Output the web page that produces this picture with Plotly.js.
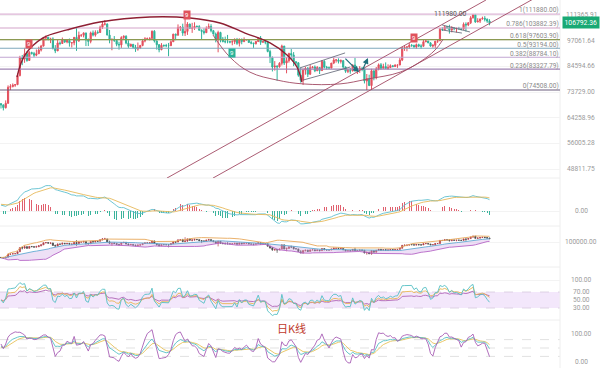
<!DOCTYPE html>
<html><head><meta charset="utf-8">
<script src="https://cdn.plot.ly/plotly-3.0.1.min.js"></script>
<style>html,body{margin:0;padding:0;background:#fff}#chart{width:600px;height:368px}</style>
</head><body><div id="chart"></div>
<script>
// Daily candles (thousand USD), Nov 3 -> May 29
const firstOpenK = 69.3;
const closeK = [
68.8,67.8,69.4,75.6,75.9,76.5,76.7,80.5,88.7,88.0,90.5,87.3,91.1,90.6,89.8,90.5,92.3,94.3,98.4,98.9,97.7,98.0,93.1,91.9,95.9,95.6,97.5,96.4,
97.2,95.9,96.0,98.8,97.0,99.9,99.9,101.2,97.4,96.7,101.2,100.0,101.5,101.4,104.3,106.1,106.1,100.0,97.5,97.8,97.2,95.2,94.9,98.7,99.4,95.8,94.2,95.2,93.7,92.8,93.4,
94.6,96.9,98.1,98.2,98.3,102.1,96.9,95.0,92.5,94.7,94.6,94.5,94.5,96.5,100.5,99.9,104.1,104.4,101.1,102.0,106.1,103.6,103.9,104.8,104.7,102.6,102.0,101.3,103.7,104.7,102.4,
100.6,97.7,101.4,97.9,96.6,96.5,96.5,96.4,96.5,97.4,95.7,97.9,96.6,97.5,97.6,96.1,95.8,95.5,96.6,98.3,96.2,96.6,96.3,91.6,88.7,84.3,84.7,84.4,
86.0,94.3,86.1,87.2,90.6,89.9,86.7,86.2,80.7,78.5,82.9,83.7,81.1,84.0,84.3,82.6,84.1,82.7,86.9,84.2,84.0,83.8,86.1,87.5,87.5,86.9,87.2,84.3,82.4,82.6,82.5,
85.2,82.5,83.1,83.8,83.5,78.2,79.2,76.3,82.6,79.6,83.4,85.3,83.7,84.5,83.6,84.0,84.9,84.5,85.1,85.2,87.5,93.4,93.7,93.9,94.7,94.6,93.8,95.0,94.3,94.2,
96.5,96.9,95.9,94.3,94.7,96.8,97.0,103.2,102.9,104.6,104.1,102.8,104.1,103.5,103.7,103.5,103.2,106.0,105.6,106.8,109.7,111.7,107.3,107.8,109.0,109.4,108.9,107.8,106.79236
];
const highK = [
69.4,69.0,70.5,76.4,76.9,77.2,76.9,81.5,89.5,89.9,93.4,91.8,91.8,91.5,91.4,92.6,94.0,94.9,99.0,99.8,98.8,98.6,98.8,94.8,97.4,96.7,98.7,97.5,
97.9,98.2,96.3,99.0,104.0,101.9,100.5,101.4,101.2,98.2,101.9,102.5,102.6,102.6,105.2,107.8,108.4,106.5,102.8,98.1,99.5,97.4,96.5,99.4,99.9,99.9,97.3,95.5,95.2,94.9,96.1,
94.9,98.0,98.9,98.7,98.8,102.5,102.7,97.2,95.3,95.8,95.0,95.4,95.9,97.3,100.7,100.8,105.9,104.9,106.3,109.6,107.2,106.3,106.8,107.1,105.3,105.5,103.1,103.7,104.8,106.4,106.0,
102.8,101.4,102.4,101.8,99.0,99.2,100.1,96.8,97.3,98.3,98.5,98.1,98.0,98.8,97.9,97.7,97.0,96.0,96.9,98.7,99.5,96.9,96.6,96.5,92.5,89.2,87.0,85.1,
86.5,95.0,94.4,88.9,91.0,92.8,91.3,86.9,86.5,84.0,83.6,84.4,84.3,85.3,84.7,85.0,84.7,84.1,87.5,87.4,84.8,84.5,86.1,88.7,88.0,88.3,87.8,87.5,84.5,83.5,83.9,
85.5,88.5,83.9,84.7,84.2,83.8,81.2,80.9,83.5,82.7,84.3,85.9,86.1,85.8,86.4,85.5,85.5,85.1,85.6,85.3,88.5,93.9,94.7,94.0,95.8,95.3,95.0,95.6,95.5,95.2,
97.4,97.9,96.9,96.3,95.2,96.9,97.7,103.9,104.3,104.9,104.9,105.7,104.9,104.3,104.1,104.5,103.7,107.0,107.1,107.2,110.7,111.98,111.9,109.5,109.3,110.4,110.7,109.3,108.9
];
const lowK = [
67.5,66.8,67.5,69.3,74.5,75.6,75.8,76.5,80.2,85.1,86.2,86.7,87.1,90.1,88.8,89.3,90.5,91.6,94.1,97.2,97.2,95.8,92.6,90.8,91.8,94.7,95.4,95.9,
95.7,94.0,93.6,94.7,91.9,96.4,99.0,98.8,94.3,94.3,95.7,99.3,99.2,100.6,101.2,103.3,105.3,100.0,95.7,92.2,96.4,94.2,92.5,93.4,97.6,95.2,93.4,94.1,93.1,91.4,92.0,
92.8,94.2,96.2,97.5,97.2,97.9,96.1,92.5,91.2,92.2,93.8,93.7,89.3,94.3,96.5,97.3,99.9,102.3,99.6,99.5,100.1,103.3,101.2,102.8,104.1,102.5,97.8,100.3,101.3,103.3,101.5,
100.3,96.2,91.2,96.2,96.2,95.7,95.7,95.7,94.7,95.3,94.9,94.1,95.2,96.3,97.2,96.0,95.2,93.4,95.1,96.4,94.9,96.1,95.2,91.2,86.1,82.3,82.7,78.3,
84.0,85.0,85.2,81.5,86.3,87.8,84.7,85.3,80.0,77.5,76.6,80.9,79.9,80.8,83.7,82.0,82.5,81.2,82.6,83.7,83.2,83.7,83.7,85.6,86.3,85.9,85.9,83.6,81.7,81.6,81.3,
82.4,82.3,81.2,81.7,82.4,77.2,74.5,76.2,74.6,78.5,78.9,82.8,83.1,83.7,83.6,83.1,83.9,84.2,84.4,83.9,85.1,87.0,91.9,91.7,92.9,93.9,93.6,92.9,93.8,92.9,
94.1,96.3,95.8,94.0,93.5,93.4,95.9,96.9,102.3,102.9,103.2,100.8,101.5,102.6,101.4,103.1,102.6,103.1,102.0,104.9,106.1,109.3,106.8,107.1,106.7,108.7,107.6,106.8,105.4
];

// indicator state carried in from before the first visible candle
const ema12Seed = 69500, ema26Seed = 67700, deaSeed = 1900;

// Fibonacci retracement
const fibRatios = ['1','0.786','0.618','0.5','0.382','0.236','0'];
const fibPrices = [111880.00,103882.39,97603.90,93194.00,88784.10,83327.79,74508.00];
const fibColors = ['#dcb4d6','#d3a3c9','#8c9a52','#7fa9bd','#c2a6d2','#9f84b3','#6b5d7c'];

// Axis tick labels
const mainTicks = [111365.91,97061.64,84594.66,73729.00,64258.96,56005.28,48811.75];
const lastPrice = 106792.36;
const peakLabel = 111980.00;

// TD "9" markers: [day index, side]
const td9Idx = [12,79,98,175];
const td9Side = ['up','up','down','up'];

// Drawings (day index, price)
const arcTopIdx = [6.8,10.2,17.8,28.0,41.9,63.1,80.1,92.8,103.4,114.0,121.2,125.4,127.5];
const arcTopPx  = [79900,89900,98500,102800,107300,110200,109600,106700,101100,95900,89900,84300,77800];
const cupIdx = [89.8,97.0,105.5,117.0,128.0,143.6,155.1,169.1,177.5,183.9,187.3];
const cupPx  = [100100,88900,82000,78600,77000,77000,79000,82000,86600,92300,97700];
const chanAIdx = [70.3,205.5], chanAPx = [46500,120700];
const chanBIdx = [89.8,225.0], chanBPx = [46500,120900];
const flagUIdx = [126.7,145.8], flagUPx = [83900,90900];
const flagLIdx = [128.0,148.0], flagLPx = [78600,84300];
const triUIdx = [186.9,198.7], triUPx = [105600,101700];
const triLIdx = [186.9,195.3], triLPx = [102800,101100];
const arrowFromIdx = [145.3,153.0], arrowFromPx = [88900,82500];
const arrowToIdx = [151.7,155.5], arrowToPx = [82000,88500];

// ---------- build ----------
const N = closeK.length;
const idx = closeK.map((_, i) => i);
const close = closeK.map(v => v * 1000);
const open = close.map((c, i) => i === 0 ? firstOpenK * 1000 : close[i - 1]);
const high = highK.map((h, i) => Math.max(h * 1000, open[i], close[i]));
const low = lowK.map((l, i) => Math.min(l * 1000, open[i], close[i]));

function ema(a, n, seed) { const k = 2 / (n + 1); let e = seed; return a.map(v => (e = v * k + e * (1 - k))); }
const e12 = ema(close, 12, ema12Seed), e26 = ema(close, 26, ema26Seed);
const dif = e12.map((v, i) => v - e26[i]);
const dea = ema(dif, 9, deaSeed);
const macd = dif.map((v, i) => 2 * (v - dea[i]));

function rsi(n) {
  let su = 600, sa = 1200; const out = [];
  for (let i = 0; i < N; i++) {
    const d = i === 0 ? 0 : close[i] - close[i - 1];
    if (i > 0) { su = (Math.max(d, 0) + (n - 1) * su) / n; sa = (Math.abs(d) + (n - 1) * sa) / n; }
    out.push(sa === 0 ? 50 : su / sa * 100);
  }
  return out;
}
const rsi6 = rsi(6), rsi12 = rsi(12), rsi24 = rsi(24);

const kArr = [], dArr = [], jArr = [];
{ let K = 50, D = 50;
  for (let i = 0; i < N; i++) {
    const s = Math.max(0, i - 8);
    const ll = Math.min(...low.slice(s, i + 1)), hh = Math.max(...high.slice(s, i + 1));
    const rsv = hh === ll ? 50 : (close[i] - ll) / (hh - ll) * 100;
    K = (2 * K + rsv) / 3; D = (2 * D + K) / 3;
    kArr.push(K); dArr.push(D); jArr.push(3 * K - 2 * D);
  } }

const bbU = [], bbM = [], bbL = [];
for (let i = 0; i < N; i++) {
  const w = close.slice(Math.max(0, i - 19), i + 1);
  const m = w.reduce((a, b) => a + b, 0) / w.length;
  const sd = Math.sqrt(w.reduce((a, b) => a + (b - m) * (b - m), 0) / w.length);
  bbM.push(m); bbU.push(m + 2 * sd); bbL.push(m - 2 * sd);
}

const RED = '#e4505e', GRN = '#2fb39a';
const XR = [-0.42, 236.86];
const YR = [4.66769, 5.08164];
const PX_PER_IDX = 560 / (XR[1] - XR[0]);
const PX_PER_DEC = 178 / (YR[1] - YR[0]);
const traces = [];

// fib lines + labels
fibPrices.forEach((p, k) => {
  traces.push({ x: XR, y: [p, p], mode: 'lines', line: { color: fibColors[k], width: 1.1 }, hoverinfo: 'skip', xaxis: 'x', yaxis: 'y' });
});
traces.push({ x: fibPrices.map(() => 236.3), y: fibPrices, mode: 'text',
  text: fibPrices.map((p, k) => fibRatios[k] + '(' + p.toFixed(2) + ')'),
  textposition: 'top left', textfont: { size: 6.6, color: '#8a8a8a', family: 'Roboto, Arial' }, hoverinfo: 'skip', xaxis: 'x', yaxis: 'y' });

// drawings
const DR = '#8e1f33', CH = '#a24a63', GR = '#5b6070';
traces.push({ x: arcTopIdx, y: arcTopPx, mode: 'lines', line: { color: DR, width: 1.4, shape: 'spline', smoothing: 1.1 }, hoverinfo: 'skip', xaxis: 'x', yaxis: 'y' });
traces.push({ x: cupIdx, y: cupPx, mode: 'lines', line: { color: CH, width: 0.9, shape: 'spline', smoothing: 1.1 }, hoverinfo: 'skip', xaxis: 'x', yaxis: 'y' });
[[chanAIdx, chanAPx], [chanBIdx, chanBPx]].forEach(([a, b]) =>
  traces.push({ x: a, y: b, mode: 'lines', line: { color: CH, width: 0.9 }, hoverinfo: 'skip', xaxis: 'x', yaxis: 'y' }));
[[flagUIdx, flagUPx], [flagLIdx, flagLPx], [triUIdx, triUPx], [triLIdx, triLPx]].forEach(([a, b]) =>
  traces.push({ x: a, y: b, mode: 'lines', line: { color: GR, width: 0.8 }, hoverinfo: 'skip', xaxis: 'x', yaxis: 'y' }));

// candles main
traces.push({ type: 'candlestick', x: idx, open, high, low, close, xaxis: 'x', yaxis: 'y',
  increasing: { line: { color: RED, width: 1 }, fillcolor: RED },
  decreasing: { line: { color: GRN, width: 1 }, fillcolor: GRN }, whiskerwidth: 0, hoverinfo: 'skip' });

// MACD
traces.push({ type: 'bar', x: idx, y: macd, width: 0.35, marker: { color: macd.map(v => v >= 0 ? '#e0606e' : '#3bb39c') }, xaxis: 'x', yaxis: 'y2', hoverinfo: 'skip' });
traces.push({ x: idx, y: dif, mode: 'lines', line: { color: '#5fbfcf', width: 0.9 }, xaxis: 'x', yaxis: 'y2', hoverinfo: 'skip' });
traces.push({ x: idx, y: dea, mode: 'lines', line: { color: '#e6b95a', width: 0.9 }, xaxis: 'x', yaxis: 'y2', hoverinfo: 'skip' });

// BOLL panel
traces.push({ x: idx, y: bbL, mode: 'lines', line: { color: '#b565c6', width: 0.9 }, xaxis: 'x', yaxis: 'y3', hoverinfo: 'skip' });
traces.push({ x: idx, y: bbM, mode: 'lines', line: { color: '#62a9d3', width: 0.9 }, fill: 'tonexty', fillcolor: 'rgba(205,165,230,0.35)', xaxis: 'x', yaxis: 'y3', hoverinfo: 'skip' });
traces.push({ x: idx, y: bbU, mode: 'lines', line: { color: '#e8a85a', width: 0.9 }, xaxis: 'x', yaxis: 'y3', hoverinfo: 'skip' });
traces.push({ type: 'candlestick', x: idx, open, high, low, close, xaxis: 'x', yaxis: 'y3',
  increasing: { line: { color: '#b2404c', width: 0.7 }, fillcolor: '#b2404c' },
  decreasing: { line: { color: '#4a4a4a', width: 0.7 }, fillcolor: '#4a4a4a' }, whiskerwidth: 0, hoverinfo: 'skip' });

// RSI
[[rsi24, '#b063b5'], [rsi12, '#e8b552'], [rsi6, '#55bfc4']].forEach(([a, c]) =>
  traces.push({ x: idx, y: a, mode: 'lines', line: { color: c, width: 0.9 }, xaxis: 'x', yaxis: 'y4', hoverinfo: 'skip' }));
// KDJ
[[dArr, '#e8c25a'], [kArr, '#55bfc4'], [jArr, '#a85fb5']].forEach(([a, c]) =>
  traces.push({ x: idx, y: a, mode: 'lines', line: { color: c, width: 0.9 }, xaxis: 'x', yaxis: 'y5', hoverinfo: 'skip' }));

const annotations = [];
const lab = (text, yref, y) => annotations.push({ xref: 'paper', x: 581 / 560, xanchor: 'center', yref, y, yanchor: 'middle', text, showarrow: false, font: { size: 6.6, color: '#9a9a9a', family: 'Roboto, Arial' } });
mainTicks.forEach(v => lab(v.toFixed(2), 'y', Math.log10(v)));
lab('0.00', 'y2', 0);
lab('100000.00', 'y3', 100000);
[100, 70, 50, 30].forEach(v => lab(v.toFixed(2), 'y4', v));
[100, 0].forEach(v => lab(v.toFixed(2), 'y5', v));

annotations.push({ xref: 'paper', x: 600 / 560, xanchor: 'right', yref: 'y', y: Math.log10(lastPrice), yanchor: 'middle', text: lastPrice.toFixed(2), showarrow: false, bgcolor: '#19a974', borderpad: 1.5, font: { size: 6.8, color: '#ffffff', family: 'Roboto, Arial' } });
annotations.push({ xref: 'x', x: 200, xanchor: 'right', xshift: -4, yref: 'y', y: Math.log10(peakLabel), yanchor: 'middle', text: peakLabel.toFixed(2), showarrow: false, font: { size: 6.8, color: '#555', family: 'Roboto, Arial' } });

td9Idx.forEach((i, k) => {
  const up = td9Side[k] === 'up';
  annotations.push({ xref: 'x', x: i, yref: 'y', y: Math.log10(up ? high[i] : low[i]), yshift: up ? 7 : -8, yanchor: 'middle', text: '9', showarrow: false,
    bgcolor: up ? '#e0525c' : '#2bb39a', borderpad: 1, font: { size: 6, color: '#fff', family: 'Arial' } });
});
arrowToIdx.forEach((xi, k) => {
  annotations.push({ xref: 'x', yref: 'y', x: xi, y: Math.log10(arrowToPx[k]),
    axref: 'pixel', ayref: 'pixel',
    ax: (arrowFromIdx[k] - xi) * PX_PER_IDX,
    ay: -(Math.log10(arrowFromPx[k]) - Math.log10(arrowToPx[k])) * PX_PER_DEC,
    showarrow: true, arrowhead: 2, arrowsize: 1, arrowwidth: 1.2, arrowcolor: '#1f6f7c', text: '' });
});
annotations.push({ xref: 'paper', x: 291 / 560, xanchor: 'center', yref: 'paper', y: 1 - 328 / 368, yanchor: 'middle', text: '日K线', showarrow: false, font: { size: 11, color: '#c0392b', family: 'Noto Sans CJK SC' } });

const shapes = [];
[178, 226, 267, 320].forEach(py => shapes.push({ type: 'line', xref: 'paper', x0: 0, x1: 1, yref: 'paper', y0: 1 - py / 368, y1: 1 - py / 368, line: { color: '#eeeeee', width: 1 }, layer: 'below' }));
shapes.push({ type: 'rect', xref: 'paper', x0: 0, x1: 1, yref: 'y4', y0: 30, y1: 70, fillcolor: '#f3e7fb', line: { width: 0 }, layer: 'below' });
[70, 30].forEach(v => shapes.push({ type: 'line', xref: 'paper', x0: 0, x1: 1, yref: 'y4', y0: v, y1: v, line: { color: '#d6c9de', width: 0.8, dash: 'dash' }, layer: 'below' }));
[80, 50, 20].forEach(v => shapes.push({ type: 'line', xref: 'paper', x0: 0, x1: 1, yref: 'y5', y0: v, y1: v, line: { color: '#d9d9d9', width: 0.8, dash: 'dash' }, layer: 'below' }));
shapes.push({ type: 'line', xref: 'paper', x0: 1, x1: 1, yref: 'paper', y0: 0, y1: 1, line: { color: '#eeeeee', width: 1 }, layer: 'below' });

const yb = { showticklabels: false, zeroline: false, gridcolor: '#f3f3f3', gridwidth: 1, fixedrange: true, ticks: '' };
const layout = {
  width: 600, height: 368, margin: { l: 0, r: 40, t: 0, b: 0 }, paper_bgcolor: '#fff', plot_bgcolor: '#fff', showlegend: false,
  bargap: 0, hovermode: false,
  xaxis: { range: XR, showticklabels: false, showgrid: false, zeroline: false, rangeslider: { visible: false }, fixedrange: true, anchor: 'y5', ticks: '' },
  yaxis: Object.assign({ type: 'log', domain: [1 - 178 / 368, 1], range: YR, tickvals: mainTicks }, yb),
  yaxis2: Object.assign({ domain: [1 - 226 / 368, 1 - 178 / 368], range: [-4125, 9075], tickvals: [0] }, yb),
  yaxis3: Object.assign({ domain: [1 - 267 / 368, 1 - 226 / 368], range: [50000, 132000], tickvals: [100000] }, yb),
  yaxis4: Object.assign({ domain: [1 - 320 / 368, 1 - 267 / 368], range: [0, 132.5], tickvals: [100] }, yb),
  yaxis5: Object.assign({ domain: [0, 1 - 320 / 368], range: [-21.4, 150], tickvals: [] }, yb),
  annotations, shapes
};
Plotly.newPlot('chart', traces, layout, { staticPlot: true, displayModeBar: false });
</script></body></html>
